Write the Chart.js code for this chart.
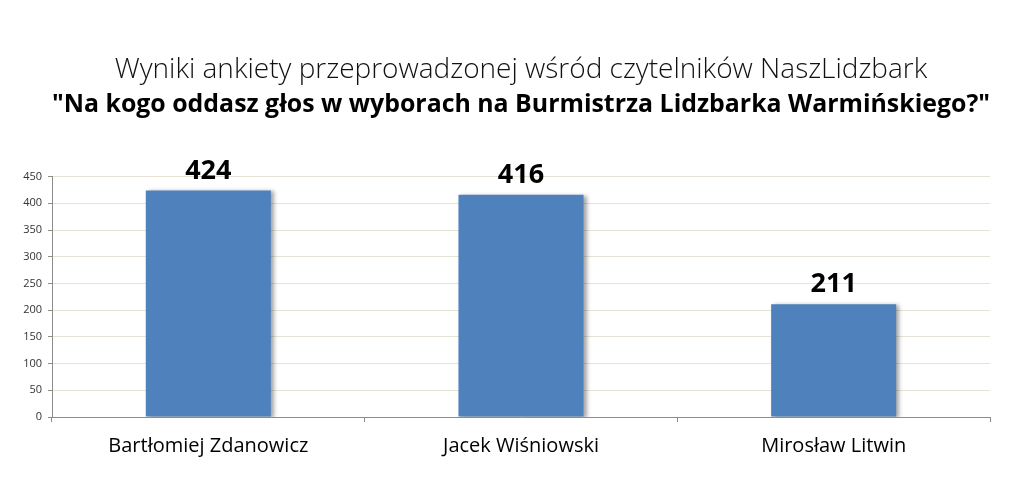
<!DOCTYPE html>
<html>
<head>
<meta charset="utf-8">
<script src="https://cdn.jsdelivr.net/npm/chart.js@4.4.0/dist/chart.umd.min.js"></script>
<style>
  html, body { margin: 0; padding: 0; background: #fff; }
  #wrap { width: 1024px; height: 490px; }
</style>
</head>
<body>
<div id="wrap"><canvas id="chart"></canvas></div>
<script>
const candidates = ['Bartłomiej Zdanowicz', 'Jacek Wiśniowski', 'Mirosław Litwin']
const votes = [424, 416, 211]
const titleText = 'Wyniki ankiety przeprowadzonej wśród czytelników NaszLidzbark'
const subtitleText = '"Na kogo oddasz głos w wyborach na Burmistrza Lidzbarka Warmińskiego?"'

const fontFamily = '"Open Sans", Lato, sans-serif'

// value labels above bars + soft shadow on right side
const barExtras = {
    id: 'barExtras',
    beforeDatasetsDraw(chart) {
        const ctx = chart.ctx
        ctx.save()
        ctx.shadowColor = 'rgba(0,0,0,0.35)'
        ctx.shadowBlur = 4
        ctx.shadowOffsetX = 3
        ctx.shadowOffsetY = 1
    },
    afterDatasetsDraw(chart) {
        const ctx = chart.ctx
        ctx.restore()
        const meta = chart.getDatasetMeta(0)
        ctx.save()
        ctx.font = 'bold 27px ' + fontFamily
        ctx.fillStyle = '#000'
        ctx.textAlign = 'center'
        ctx.textBaseline = 'bottom'
        meta.data.forEach((bar, i) => {
            ctx.fillText(String(votes[i]), bar.x, bar.y - 6)
        })
        ctx.restore()
    }
}

new Chart(document.getElementById('chart').getContext('2d'), {
    type: 'bar',
    data: {
        labels: candidates,
        datasets: [{
            data: votes,
            backgroundColor: '#4F81BD',
            borderWidth: 0,
            barPercentage: 0.4,
            categoryPercentage: 1
        }]
    },
    options: {
        responsive: true,
        maintainAspectRatio: false,
        animation: false,
        layout: { padding: { left: 0, right: 34, top: 0, bottom: 20 } },
        plugins: {
            legend: { display: false },
            tooltip: { enabled: false },
            // fullSize false -> titles centred over the plot, not the canvas
            title: {
                display: true,
                fullSize: false,
                text: titleText,
                color: '#111',
                font: { family: fontFamily, size: 28, weight: '300' },
                padding: { top: 53, bottom: 3 }
            },
            subtitle: {
                display: true,
                fullSize: false,
                text: subtitleText,
                color: '#000',
                font: { family: fontFamily, size: 25, weight: 'bold' },
                padding: { top: 0, bottom: 57 }
            }
        },
        scales: {
            x: {
                grid: { offset: true, drawOnChartArea: false, tickLength: 5, color: '#8c8c8c' },
                border: { color: '#8c8c8c' },
                ticks: { color: '#000', padding: 12, font: { family: fontFamily, size: 20 } }
            },
            y: {
                min: 0,
                max: 450,
                afterFit(scale) { scale.width = 52 },
                grid: { color: '#e6e2d6', tickLength: 4, tickColor: '#8c8c8c' },
                border: { color: '#8c8c8c' },
                ticks: { stepSize: 50, color: '#333', padding: 6, font: { family: fontFamily, size: 11 } }
            }
        }
    },
    plugins: [barExtras]
})
</script>
</body>
</html>
